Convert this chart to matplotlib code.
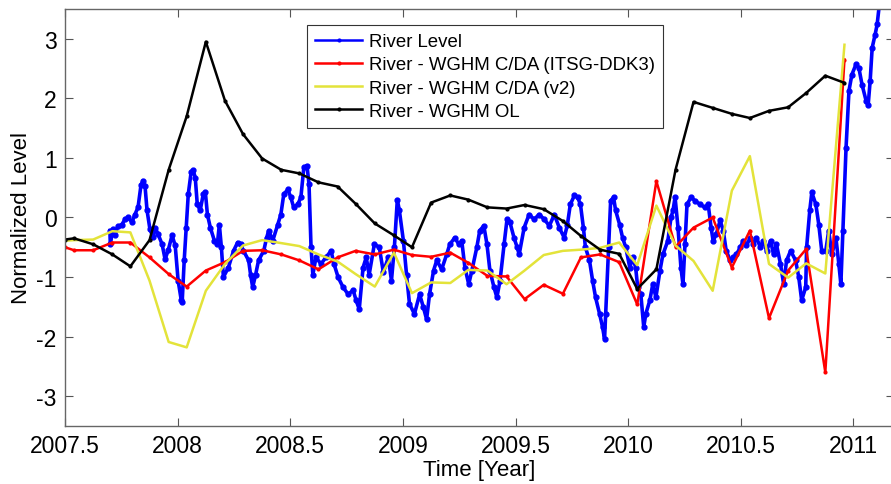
import numpy as np
import matplotlib
matplotlib.use('Agg')
import matplotlib.pyplot as plt
from matplotlib import rcParams

rcParams['font.family'] = ['Liberation Sans', 'DejaVu Sans']
rcParams['font.size'] = 16
rcParams['axes.unicode_minus'] = False

# Monthly model epochs (decimal year)
month_t = [2007.50, 2007.54, 2007.625, 2007.71, 2007.79, 2007.875, 2007.96,
           2008.04, 2008.125, 2008.21, 2008.29, 2008.375, 2008.46,
           2008.54, 2008.625, 2008.71, 2008.79, 2008.875, 2008.96,
           2009.04, 2009.125, 2009.21, 2009.29, 2009.375, 2009.46,
           2009.54, 2009.625, 2009.71, 2009.79, 2009.875, 2009.96,
           2010.04, 2010.125, 2010.21, 2010.29, 2010.375, 2010.46,
           2010.54, 2010.625, 2010.71, 2010.79, 2010.875, 2010.96]

cda_ddk3 = [-0.50, -0.55, -0.55, -0.42, -0.42, -0.67, -0.95,
            -1.16, -0.89, -0.75, -0.56, -0.55, -0.62,
            -0.72, -0.87, -0.67, -0.56, -0.62, -0.54,
            -0.63, -0.66, -0.59, -0.76, -0.98, -0.99,
            -1.37, -1.13, -1.28, -0.67, -0.62, -0.75,
            -1.46, 0.61, -0.49, -0.17, 0.00, -0.84,
            -0.22, -1.69, -0.89, -0.53, -2.60, 2.65]

cda_v2 = [-0.39, -0.38, -0.37, -0.23, -0.25, -1.06, -2.09,
          -2.18, -1.23, -0.78, -0.47, -0.38, -0.43,
          -0.48, -0.62, -0.74, -0.95, -1.16, -0.59,
          -1.27, -1.09, -1.10, -0.88, -0.89, -1.12,
          -0.89, -0.63, -0.56, -0.54, -0.51, -0.42,
          -0.80, 0.20, -0.47, -0.73, -1.23, 0.45,
          1.03, -0.78, -1.01, -0.77, -0.94, 2.90]

wghm_ol = [-0.37, -0.35, -0.45, -0.62, -0.82, -0.38, 0.80,
           1.70, 2.95, 1.96, 1.40, 0.99, 0.80,
           0.74, 0.59, 0.52, 0.23, -0.10, -0.30,
           -0.50, 0.25, 0.37, 0.30, 0.17, 0.15,
           0.21, 0.14, -0.06, -0.31, -0.54, -0.61,
           -1.20, -0.87, 0.80, 1.94, 1.84, 1.74,
           1.67, 1.79, 1.85, 2.09, 2.38, 2.26]

# Gauge record (decimal year, normalized level)
river_t = [2007.699, 2007.701, 2007.712, 2007.721, 2007.734, 2007.752, 2007.766, 2007.779,
           2007.797, 2007.810, 2007.824, 2007.837, 2007.846, 2007.855, 2007.864, 2007.877,
           2007.891, 2007.900, 2007.913, 2007.931, 2007.944, 2007.958, 2007.975, 2007.989,
           2008.002, 2008.016, 2008.020, 2008.029, 2008.038, 2008.047, 2008.060, 2008.069,
           2008.078, 2008.087, 2008.100, 2008.114, 2008.123, 2008.132, 2008.145, 2008.163,
           2008.176, 2008.185, 2008.194, 2008.203, 2008.225, 2008.248, 2008.266, 2008.279,
           2008.292, 2008.315, 2008.324, 2008.333, 2008.346, 2008.359, 2008.382, 2008.395,
           2008.404, 2008.422, 2008.444, 2008.458, 2008.471, 2008.489, 2008.502, 2008.515,
           2008.533, 2008.547, 2008.560, 2008.574, 2008.583, 2008.592, 2008.600, 2008.614,
           2008.636, 2008.658, 2008.681, 2008.694, 2008.712, 2008.734, 2008.757, 2008.779,
           2008.792, 2008.806, 2008.823, 2008.837, 2008.850, 2008.873, 2008.895, 2008.913,
           2008.935, 2008.949, 2008.962, 2008.975, 2008.984, 2009.002, 2009.016, 2009.029,
           2009.051, 2009.074, 2009.091, 2009.105, 2009.118, 2009.136, 2009.150, 2009.172,
           2009.194, 2009.208, 2009.230, 2009.248, 2009.261, 2009.275, 2009.292, 2009.306,
           2009.328, 2009.341, 2009.359, 2009.373, 2009.386, 2009.404, 2009.417, 2009.431,
           2009.449, 2009.462, 2009.475, 2009.493, 2009.507, 2009.516, 2009.538, 2009.560,
           2009.582, 2009.605, 2009.627, 2009.650, 2009.672, 2009.694, 2009.716, 2009.730,
           2009.743, 2009.761, 2009.775, 2009.788, 2009.801, 2009.810, 2009.828, 2009.842,
           2009.855, 2009.873, 2009.886, 2009.895, 2009.900, 2009.913, 2009.922, 2009.935,
           2009.944, 2009.962, 2009.975, 2009.989, 2010.007, 2010.020, 2010.033, 2010.042,
           2010.056, 2010.069, 2010.078, 2010.096, 2010.109, 2010.123, 2010.141, 2010.154,
           2010.176, 2010.190, 2010.199, 2010.208, 2010.221, 2010.234, 2010.243, 2010.252,
           2010.261, 2010.279, 2010.297, 2010.319, 2010.341, 2010.355, 2010.368, 2010.377,
           2010.391, 2010.408, 2010.422, 2010.435, 2010.453, 2010.467, 2010.480, 2010.498,
           2010.511, 2010.525, 2010.542, 2010.556, 2010.569, 2010.587, 2010.600, 2010.614,
           2010.632, 2010.645, 2010.658, 2010.676, 2010.690, 2010.703, 2010.721, 2010.743,
           2010.757, 2010.770, 2010.788, 2010.792, 2010.806, 2010.815, 2010.833, 2010.846,
           2010.859, 2010.877, 2010.890, 2010.904, 2010.922, 2010.935, 2010.944, 2010.953,
           2010.967, 2010.980, 2010.993, 2011.011, 2011.024, 2011.038, 2011.056, 2011.065,
           2011.074, 2011.083, 2011.096, 2011.105, 2011.118]

river_lvl = [-0.22, -0.45, -0.20, -0.30, -0.15, -0.12, -0.03, 0.00,
             -0.08, 0.05, 0.17, 0.54, 0.62, 0.53, 0.12, -0.20,
             -0.33, -0.17, -0.28, -0.45, -0.70, -0.55, -0.30, -0.47,
             -1.06, -1.39, -1.42, -0.72, -0.17, 0.39, 0.77, 0.79,
             0.67, 0.22, 0.12, 0.40, 0.42, 0.05, -0.17, -0.39,
             -0.45, -0.12, -0.50, -1.00, -0.84, -0.56, -0.42, -0.45,
             -0.56, -0.72, -0.97, -1.17, -0.96, -0.72, -0.56, -0.34,
             -0.22, -0.39, -0.12, 0.05, 0.39, 0.47, 0.34, 0.17,
             0.22, 0.34, 0.84, 0.87, 0.56, -0.50, -0.96, -0.67,
             -0.78, -0.67, -0.56, -0.78, -1.00, -1.17, -1.29, -1.22,
             -1.39, -1.54, -0.84, -0.67, -0.96, -0.45, -0.50, -0.92,
             -0.67, -1.06, -0.50, 0.30, 0.12, -0.39, -0.96, -1.45,
             -1.62, -1.29, -1.51, -1.71, -1.29, -0.89, -0.72, -0.87,
             -0.62, -0.45, -0.34, -0.45, -0.39, -0.84, -1.12, -0.89,
             -0.50, -0.22, -0.14, -0.45, -0.89, -1.17, -1.34, -1.06,
             -0.45, -0.03, -0.08, -0.34, -0.50, -0.62, -0.17, 0.05,
             -0.03, 0.05, -0.03, -0.14, 0.05, -0.17, -0.34, -0.12,
             0.22, 0.37, 0.34, 0.22, -0.17, -0.50, -0.72, -1.06,
             -1.34, -1.62, -1.84, -2.04, -1.62, -0.50, 0.28, 0.34,
             0.12, -0.12, -0.34, -0.50, -0.84, -0.67, -0.84, -1.17,
             -1.29, -1.84, -1.62, -1.39, -1.12, -1.34, -0.89, -0.62,
             -0.39, 0.00, 0.12, 0.34, -0.17, -0.84, -1.12, -0.45,
             0.22, 0.34, 0.28, 0.22, 0.17, 0.22, -0.17, -0.39,
             -0.28, -0.05, -0.22, -0.56, -0.72, -0.67, -0.62, -0.50,
             -0.39, -0.47, -0.34, -0.45, -0.34, -0.50, -0.39, -0.56,
             -0.39, -0.62, -0.45, -0.78, -1.12, -0.72, -0.56, -0.72,
             -1.00, -1.39, -1.17, -0.50, 0.12, 0.42, 0.22, -0.12,
             -0.56, -0.56, -0.22, -0.62, -0.34, -0.78, -1.12, -0.22,
             1.17, 2.13, 2.40, 2.57, 2.51, 2.23, 1.96, 1.88,
             2.29, 2.85, 3.07, 3.24, 3.68]

xticks = [2007.5, 2008, 2008.5, 2009, 2009.5, 2010, 2010.5, 2011]
xtick_labels = ['2007.5', '2008', '2008.5', '2009', '2009.5', '2010', '2010.5', '2011']
yticks = [-3, -2, -1, 0, 1, 2, 3]

fig = plt.figure(figsize=(8.91, 4.85), dpi=100)
ax = fig.add_axes([0.073, 0.1196, 0.9304, 0.8598])

ax.plot(river_t, river_lvl, color='#0000ff', lw=2.6, marker='.', ms=7,
        label='River Level')
ax.plot(month_t, cda_ddk3, color='#ff0000', lw=1.8, marker='.', ms=4,
        label='River - WGHM C/DA (ITSG-DDK3)')
ax.plot(month_t, cda_v2, color='#e3e33a', lw=1.8,
        label='River - WGHM C/DA (v2)')
ax.plot(month_t, wghm_ol, color='#000000', lw=1.8, marker='.', ms=4,
        label='River - WGHM OL')

ax.set_xlim(2007.5, 2011.18)
ax.set_ylim(-3.5, 3.5)
ax.set_xticks(xticks)
ax.set_xticklabels(xtick_labels)
ax.set_yticks(yticks)
ax.tick_params(direction='in', top=True, right=True, length=6, width=0.8,
               color='#555555', labelsize=16.5, pad=6)
for sp in ax.spines.values():
    sp.set_color('#666666')
    sp.set_linewidth(1.0)

ax.set_xlabel('Time [Year]', fontsize=16)
ax.set_ylabel('Normalized Level', fontsize=16)
ax.xaxis.set_label_coords(0.5, -0.079)
ax.yaxis.set_label_coords(-0.04, 0.5)

leg = ax.legend(loc='upper left', bbox_to_anchor=(0.292, 0.962), fontsize=13.4,
                frameon=True, fancybox=False, edgecolor='#333333', framealpha=1,
                borderpad=0.45, labelspacing=0.33, handlelength=2.5,
                handletextpad=0.35, borderaxespad=0)
leg.get_frame().set_linewidth(0.8)
for ln in leg.get_lines():
    ln.set_linewidth(1.8)
    ln.set_markersize(4)

fig.savefig('out.png', dpi=100)
